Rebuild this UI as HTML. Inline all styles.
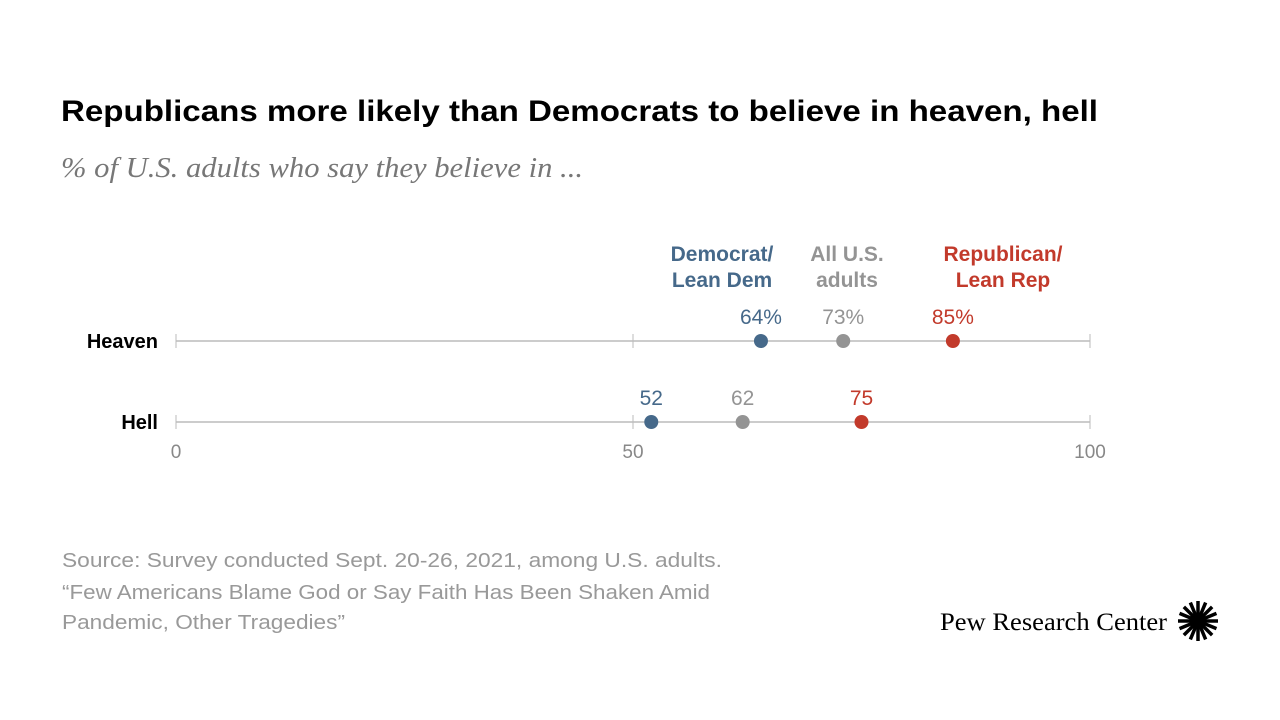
<!DOCTYPE html>
<html><head><meta charset="utf-8"><style>
body{margin:0;width:1280px;height:720px;background:#fff;overflow:hidden;font-family:"Liberation Sans",sans-serif}
svg{position:absolute;left:0;top:0}
</style></head><body>
<svg id="c" width="1280" height="720" xmlns="http://www.w3.org/2000/svg">
<text x="61" y="121" font-size="30" font-weight="bold" fill="#000" font-family="Liberation Sans, sans-serif" textLength="1037" lengthAdjust="spacingAndGlyphs">Republicans more likely than Democrats to believe in heaven, hell</text>
<text x="61" y="177" font-size="28" font-style="italic" fill="#777" font-family="Liberation Serif, serif" textLength="522" lengthAdjust="spacingAndGlyphs">% of U.S. adults who say they believe in ...</text>
<g font-size="21" font-weight="bold" text-anchor="middle">
<text x="722" y="261" fill="#46698a">Democrat/</text>
<text x="722" y="287" fill="#46698a">Lean Dem</text>
<text x="847" y="261" fill="#949494">All U.S.</text>
<text x="847" y="287" fill="#949494">adults</text>
<text x="1003" y="261" fill="#c23a2b">Republican/</text>
<text x="1003" y="287" fill="#c23a2b">Lean Rep</text>
</g>
<g id="plot"></g>
<g font-size="20" fill="#999">
<text x="62" y="567" textLength="660" lengthAdjust="spacingAndGlyphs">Source: Survey conducted Sept. 20-26, 2021, among U.S. adults.</text>
<text x="62" y="599" textLength="648" lengthAdjust="spacingAndGlyphs">“Few Americans Blame God or Say Faith Has Been Shaken Amid</text>
<text x="62" y="629" textLength="283" lengthAdjust="spacingAndGlyphs">Pandemic, Other Tragedies”</text>
</g>
<text x="940" y="630" font-size="25" fill="#000" font-family="Liberation Serif, serif" textLength="227" lengthAdjust="spacingAndGlyphs">Pew Research Center</text>
<g id="logo"></g>
</svg>
<script>
const categories=["Heaven","Hell"];
const demValues=[64,52];
const allValues=[73,62];
const repValues=[85,75];
const valueLabels=[["64%","73%","85%"],["52","62","75"]];
const ticks=[0,50,100];
const NS="http://www.w3.org/2000/svg";
const x=v=>176+v*(1090-176)/100;
const rowY=i=>341+i*81;
const g=document.getElementById('plot');
function mk(t,a){const e=document.createElementNS(NS,t);for(const k in a)e.setAttribute(k,a[k]);g.appendChild(e);return e;}
const colors=["#46698a","#949494","#c23a2b"];
categories.forEach((c,i)=>{
 const y=rowY(i);
 const l=mk('line',{x1:x(0),x2:x(100),y1:y,y2:y,stroke:'#bbb','stroke-width':1.5});
 
 
 ticks.forEach(t=>{const tk=mk('line',{x1:x(t),x2:x(t),y1:y-7,y2:y+7,stroke:'#bbb','stroke-width':1});
  
  });
 const lab=mk('text',{x:158,y:y+7,'text-anchor':'end','font-size':20,'font-weight':'bold',fill:'#000'});
 lab.textContent=c;
 
 
 [demValues,allValues,repValues].forEach((arr,j)=>{
  const d=mk('circle',{cx:x(arr[i]),cy:y,r:7,fill:colors[j]});
  
  
  const tx=mk('text',{x:x(arr[i]),y:y-17,'text-anchor':'middle','font-size':21,fill:colors[j]});
  tx.textContent=valueLabels[i][j];
  
  
 });
});
ticks.forEach(t=>{const tx=mk('text',{x:x(t),y:458,'text-anchor':'middle','font-size':19,fill:'#888'});
 tx.textContent=t;
 
 });
const lg=document.getElementById('logo');
for(let k=0;k<16;k++){const a=k*Math.PI/8;const r=document.createElementNS(NS,'line');
 r.setAttribute('x1',1198+6*Math.cos(a));r.setAttribute('y1',621+6*Math.sin(a));
 r.setAttribute('x2',1198+20*Math.cos(a));r.setAttribute('y2',621+20*Math.sin(a));
 r.setAttribute('stroke','#000');r.setAttribute('stroke-width',3.5);lg.appendChild(r);}
const cc=document.createElementNS(NS,'circle');cc.setAttribute('cx',1198);cc.setAttribute('cy',621);cc.setAttribute('r',7);lg.appendChild(cc);
</script>
</body></html>
